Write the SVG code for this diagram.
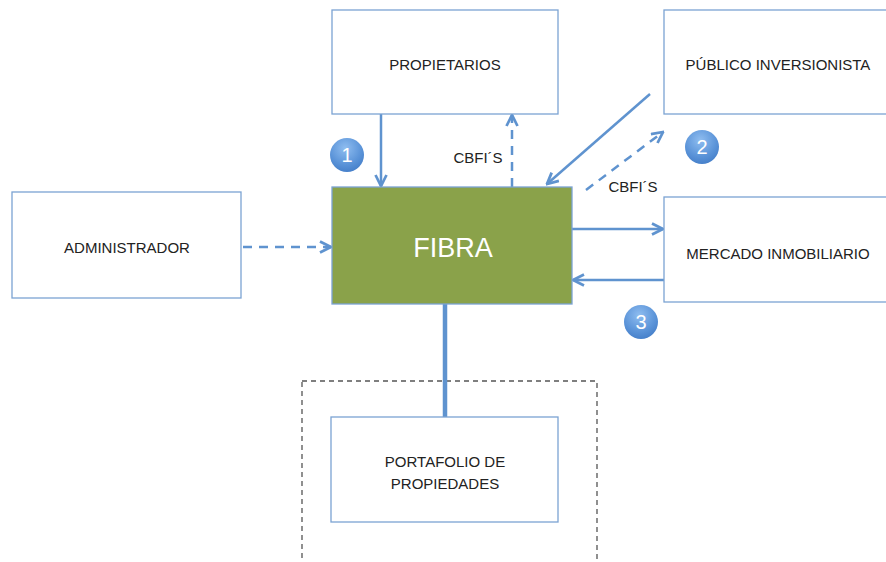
<svg xmlns="http://www.w3.org/2000/svg" width="886" height="562" viewBox="0 0 886 562">
<style>
.box{fill:#fff;stroke:#7ba3d3;stroke-width:1.3}
.lbl{font-family:"Liberation Sans",Arial,sans-serif;font-size:15px;fill:#222;text-anchor:middle}
.cn{stroke:#5f93cf;stroke-width:2.5;fill:none}
.dash{stroke-dasharray:9,7}
.num{font-family:"Liberation Sans",Arial,sans-serif;font-size:20px;fill:#fff;text-anchor:middle}
</style>
<defs>
<marker id="ah" viewBox="0 0 10 10" refX="9" refY="5" markerWidth="5.5" markerHeight="5.5" orient="auto" markerUnits="strokeWidth">
<path d="M1,1 L9,5 L1,9" fill="none" stroke="#5f93cf" stroke-width="2"/>
</marker>
<radialGradient id="cg" cx="0.45" cy="0.3" r="0.8">
<stop offset="0" stop-color="#8fbdf0"/>
<stop offset="0.6" stop-color="#5a93d8"/>
<stop offset="1" stop-color="#3e78c4"/>
</radialGradient>
</defs>
<rect width="886" height="562" fill="#fff"/>
<g id="portafolio-group">
<rect x="302" y="381" width="295" height="185" fill="none" stroke="#555" stroke-width="1.3" stroke-dasharray="5,4"/>
</g>
<g id="connectors">
<line class="cn" x1="381" y1="114" x2="381" y2="186" marker-end="url(#ah)"/>
<line class="cn dash" x1="512" y1="187" x2="512" y2="115" marker-end="url(#ah)"/>
<line class="cn" x1="650" y1="94" x2="547" y2="184" marker-end="url(#ah)"/>
<line class="cn dash" x1="586" y1="190" x2="663" y2="132" marker-end="url(#ah)"/>
<line class="cn" x1="572" y1="229" x2="663" y2="229" marker-end="url(#ah)"/>
<line class="cn" x1="664" y1="280" x2="573" y2="280" marker-end="url(#ah)"/>
<line class="cn dash" x1="243" y1="247" x2="331" y2="247" marker-end="url(#ah)"/>
<line x1="445" y1="304" x2="445" y2="417" stroke="#5f93cf" stroke-width="4.5"/>
<text class="lbl" x="478" y="163">CBFI´S</text>
<text class="lbl" x="633" y="192">CBFI´S</text>
</g>
<g id="propietarios">
<rect class="box" x="332" y="10" width="226" height="104"/>
<text class="lbl" x="445" y="70">PROPIETARIOS</text>
</g>
<g id="publico">
<rect class="box" x="664" y="10" width="224" height="104"/>
<text class="lbl" x="778" y="70">PÚBLICO INVERSIONISTA</text>
</g>
<g id="administrador">
<rect class="box" x="12" y="192" width="229" height="106"/>
<text class="lbl" x="127" y="253">ADMINISTRADOR</text>
</g>
<g id="fibra">
<rect x="332" y="187" width="240" height="117" fill="#8aa24a" stroke="#7ba3d3" stroke-width="1.3"/>
<text x="453" y="257" font-family="Liberation Sans,Arial,sans-serif" font-size="27" fill="#fff" text-anchor="middle">FIBRA</text>
</g>
<g id="mercado">
<rect class="box" x="664" y="197" width="224" height="105"/>
<text class="lbl" x="778" y="259">MERCADO INMOBILIARIO</text>
</g>
<g id="portafolio">
<rect class="box" x="331" y="417" width="227" height="105"/>
<text class="lbl" x="445" y="467">PORTAFOLIO DE</text>
<text class="lbl" x="445" y="489">PROPIEDADES</text>
</g>
<g id="badge1">
<circle cx="347" cy="155" r="17" fill="url(#cg)"/>
<text class="num" x="347" y="162">1</text>
</g>
<g id="badge2">
<circle cx="702" cy="147" r="17" fill="url(#cg)"/>
<text class="num" x="702" y="154">2</text>
</g>
<g id="badge3">
<circle cx="641" cy="322" r="17" fill="url(#cg)"/>
<text class="num" x="641" y="329">3</text>
</g>
</svg>
